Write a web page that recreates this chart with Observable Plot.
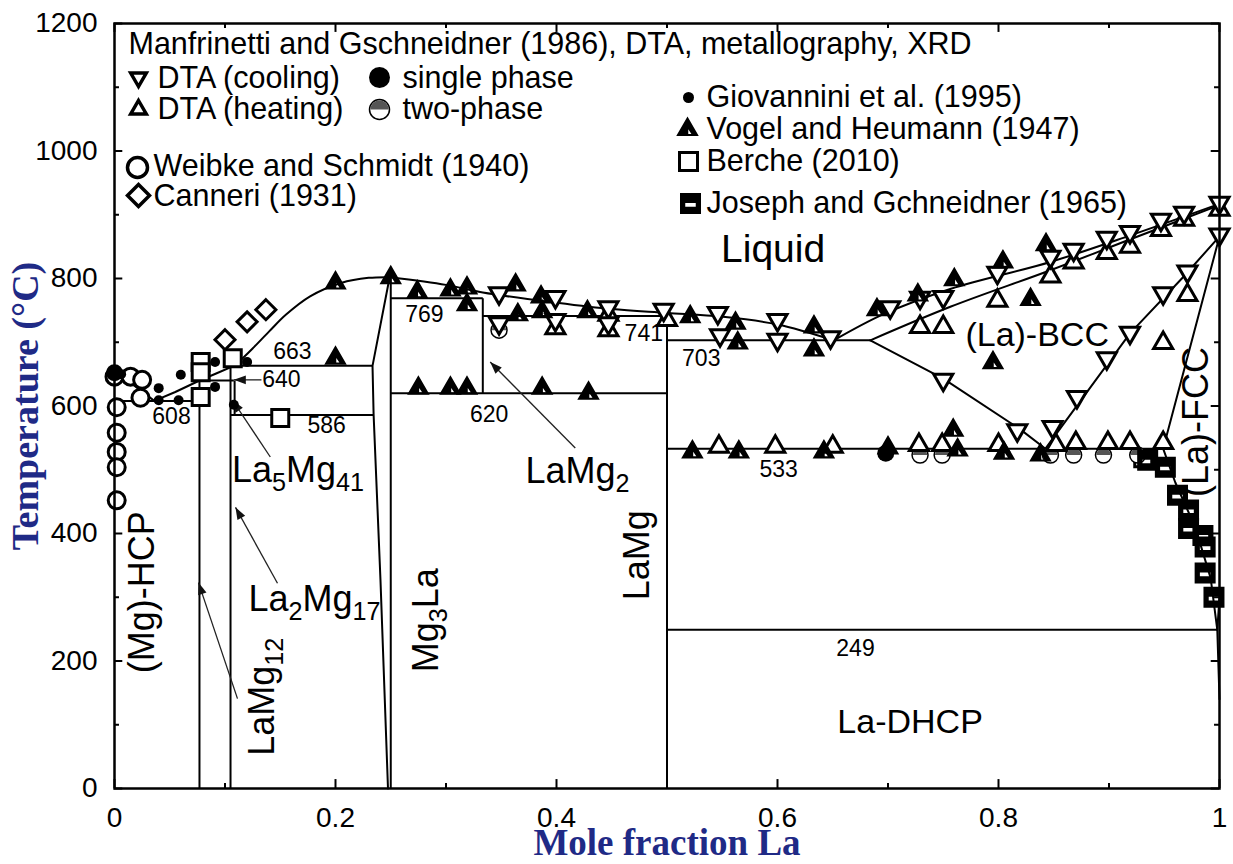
<!DOCTYPE html>
<html><head><meta charset="utf-8">
<script src="https://cdn.jsdelivr.net/npm/d3@7"></script>
<script src="https://cdn.jsdelivr.net/npm/@observablehq/plot@0.6"></script>
<style>body{margin:0;background:#fff}</style>
</head><body><div id="chart"></div>
<script>
// ---------- tick values ----------
const xTicks = [0, 0.2, 0.4, 0.6, 0.8, 1];
const xMinor = [0.1, 0.3, 0.5, 0.7, 0.9];
const yTicks = [0, 200, 400, 600, 800, 1000, 1200];
const yMinor = [100, 300, 500, 700, 900, 1100];

// ---------- phase boundaries [x, T] ----------
const liqMgSide   = [[0,650],[0.018,632],[0.036,608]];
const liqEutRight = [[0.036,608],[0.055,622],[0.077,640]];
const liqPerit    = [[0.077,640],[0.092,651],[0.108,663]];
const liqMg3La    = [[0.108,663],[0.116,675],[0.126,692],[0.14,717],[0.155,743],[0.177,772],[0.205,793],[0.23,801],[0.25,802]];
const liqLaMg     = [[0.25,802],[0.3,790],[0.3333,778],[0.4,762],[0.45,752],[0.5,746],[0.55,740],[0.6,728],[0.651,703]];
const liqBCC      = [[0.651,703],[0.696,744],[0.757,784],[0.847,826],[0.92,868],[1,917]];
const solBCC      = [[0.684,703],[0.757,756],[0.847,813],[0.92,862],[1,915]];
const bccEutectoid= [[0.684,703],[0.75,643],[0.82,563],[0.8425,533]];
const bccFccBcc   = [[0.8425,533],[0.919,714],[0.967,802],[1,866]];
const bccFccFcc   = [[0.949,533],[1,866]];
const fccDhcp     = [[0.949,533],[0.96,480],[0.978,410],[0.992,330],[0.998,249]];
const dhcpSolvus  = [[1,300],[0.998,249],[1,140]];
const mg3laLeft   = [[0.249,802],[0.2335,663],[0.2345,586],[0.2407,327],[0.2475,0]];
const curves = [liqMgSide, liqEutRight, liqPerit, liqMg3La, liqLaMg, liqBCC, solBCC, bccEutectoid, bccFccBcc, bccFccFcc, fccDhcp, dhcpSolvus, mg3laLeft];
const smooth = [liqMg3La, liqLaMg, liqBCC, solBCC];

// straight segments [x1, T1, x2, T2]
const invariantLines = [
  [0.004,608,0.0769,608],[0.0769,640,0.108,640],[0.108,663,0.2335,663],[0.105,586,0.2345,586],
  [0.25,769,0.3333,769],[0.25,620,0.5,620],[0.3333,741,0.5,741],[0.5,703,0.684,703],
  [0.5,533,0.949,533],[0.5,249,0.998,249]
];
const compoundLines = [
  [0.0769,0,0.0769,640],[0.105,0,0.105,663],[0.1087,586,0.1087,640],
  [0.25,0,0.25,802],[0.3333,620,0.3333,769],[0.5,0,0.5,741]
];
// annotation arrows [xStart, TStart, xTip, TTip]
const arrows = [
  [0.1113,141,0.076,323],
  [0.1475,322,0.1095,441],
  [0.141,520,0.1068,609],
  [0.417,534,0.340,669],
  [0.133,641,0.108,641]
];

// ---------- experimental points [x, T] ----------
const dtaCooling = [[0.348,777],[0.348,730],[0.399,771],[0.399,735],[0.447,755],[0.447,730],[0.497,751],
  [0.546,746],[0.548,711],[0.600,735],[0.600,704],[0.648,708],[0.702,755],[0.729,770],[0.750,771],[0.750,641],
  [0.799,809],[0.817,562],[0.847,834],[0.868,845],[0.898,864],[0.919,873],[0.947,892],[0.968,903],[1.0,919],
  [1.0,869],[0.971,811],[0.949,777],[0.919,715],[0.898,675],[0.871,614],[0.849,567]];
const dtaHeating = [[0.399,722],[0.447,743],[0.447,719],[0.5,735],[0.547,536],[0.598,536],[0.65,536],
  [0.728,539],[0.749,539],[0.8,539],[0.852,539],[0.87,542],[0.899,542],[0.919,542],[0.949,542],
  [0.729,724],[0.75,724],[0.799,765],[0.847,803],[0.868,825],[0.898,840],[0.919,850],[0.947,876],
  [0.968,892],[1.0,908],[0.971,774],[0.949,699]];
const singlePhase = [[0.0,652],[0.698,526]];
const twoPhase = [[0.348,719],[0.729,523],[0.749,523],[0.847,523],[0.868,523],[0.895,523],[0.926,523]];
const weibke = [[0.0,646],[0.0145,646],[0.025,641],[0.0235,613],[0.002,598],[0.002,558],[0.002,528],[0.002,504],[0.002,452]];
const canneri = [[0.1,704],[0.12,732],[0.137,751]];
const giovannini = [[0.0,655],[0.006,650],[0.04,628],[0.06,649],[0.058,609],[0.04,609],[0.091,669],[0.091,630],[0.12,669],[0.108,602]];
const vogel = [[0.2,793],[0.2,675],[0.25,801],[0.274,779],[0.304,782],[0.319,785],[0.319,759],[0.363,790],
  [0.365,743],[0.386,771],[0.387,748],[0.428,748],[0.275,628],[0.304,628],[0.319,628],[0.387,628],[0.429,620],
  [0.521,740],[0.562,730],[0.564,699],[0.633,724],[0.633,688],[0.69,751],[0.727,774],[0.76,798],[0.804,826],
  [0.843,853],[0.829,767],[0.795,668],[0.523,528],[0.565,528],[0.642,528],[0.70,534],[0.759,562],[0.763,531],
  [0.805,526],[0.838,523]];
const berche = [[0.078,669],[0.078,653],[0.078,614],[0.107,675],[0.15,581],[0.931,518]];
const joseph = [[0.935,515],[0.951,504],[0.962,460],[0.972,437],[0.972,408],[0.985,397],[0.987,379],[0.987,338],[0.995,300]];

// ---------- texts ----------
const bigLabels = [["Liquid",0.596,845]];
const phaseLabels = [["(La)-BCC",0.835,711],["La-DHCP",0.72,104]];
const rotatedLabels = [["(Mg)-HCP",0.0253,308],["LaMg{12}",0.134,144],["Mg{3}La",0.282,264],["LaMg",0.473,366],["(La)-FCC",0.979,575]];
const compoundLabels = [["La{5}Mg{41}",0.1063,499],["La{2}Mg{17}",0.1213,297],["LaMg{2}",0.372,497]];
const invariantLabels = [["663",0.161,685],["640",0.151,641],["608",0.0516,584],["586",0.192,569],["769",0.2805,743],
  ["620",0.339,586],["741",0.479,713],["703",0.531,675],["533",0.601,500],["249",0.6706,220]];
const legendHeader = "Manfrinetti and Gschneidner (1986), DTA, metallography, XRD";
const legendLeft = ["DTA (cooling)","DTA (heating)","single phase","two-phase","Weibke and Schmidt (1940)","Canneri (1931)"];
const legendRight = ["Giovannini et al. (1995)","Vogel and Heumann (1947)","Berche (2010)","Joseph and Gchneidner (1965)"];
const xTitle = "Mole fraction La";
const yTitle = "Temperature (°C)";

// ---------- symbols ----------
const sym = f => ({draw(c, size){ f(c, Math.sqrt(size/Math.PI)); }});
const triUp = sym((c,r)=>{const h=r*0.866; c.moveTo(0,-r); c.lineTo(h,r/2); c.lineTo(-h,r/2); c.closePath();});
const triDown = sym((c,r)=>{const h=r*0.866; c.moveTo(0,r); c.lineTo(-h,-r/2); c.lineTo(h,-r/2); c.closePath();});
const triNotched = sym((c,r)=>{const h=r*0.866; c.moveTo(0,-r); c.lineTo(h,r/2); c.lineTo(-h,r/2); c.closePath();
  c.moveTo(0.06*r,-0.02*r); c.lineTo(0.06*r,0.34*r); c.lineTo(0.3*r,0.34*r); c.closePath();});
const square = sym((c,r)=>{c.moveTo(-r,-r); c.lineTo(r,-r); c.lineTo(r,r); c.lineTo(-r,r); c.closePath();});
const squareBar = sym((c,r)=>{c.moveTo(-r,-r); c.lineTo(r,-r); c.lineTo(r,r); c.lineTo(-r,r); c.closePath();
  c.moveTo(-0.5*r,-0.05*r); c.lineTo(-0.5*r,0.3*r); c.lineTo(0.5*r,0.3*r); c.lineTo(0.5*r,-0.05*r); c.closePath();});
const diamond = sym((c,r)=>{c.moveTo(0,-r); c.lineTo(r,0); c.lineTo(0,r); c.lineTo(-r,0); c.closePath();});
const topHalf = sym((c,r)=>{c.moveTo(-r,0); c.arc(0,0,r,Math.PI,2*Math.PI); c.closePath();});
const arrowHead = sym((c,r)=>{c.moveTo(0,0); c.lineTo(0.55*r,1.5*r); c.lineTo(-0.55*r,1.5*r); c.closePath();});

const NAVY = "#1f2a86";
const opts = {
  width: 1233, height: 864,
  marginLeft: 114, marginRight: 14, marginTop: 23, marginBottom: 76,
  x: {domain: [0, 1]}, y: {domain: [0, 1200]},
  style: {fontFamily: "'Liberation Sans', Arial, sans-serif", background: "white", color: "black", overflow: "visible"}
};
const base = Plot.plot({...opts, marks: [Plot.frame()]});
const sx = base.scale("x"), sy = base.scale("y");
const fx = d3.scaleLinear(sx.domain, sx.range), fy = d3.scaleLinear(sy.domain, sy.range);
const angle = a => Math.atan2(fx(a[2]) - fx(a[0]), -(fy(a[3]) - fy(a[1]))) * 180 / Math.PI;

const P = {x: d => d[0], y: d => d[1]};
const pts = (data, o) => Plot.dot(data, {...P, ...o});
const lab = (data, o) => Plot.text(data, {x: d => d[1], y: d => d[2], text: d => d[0], ...o});
const leg = (o) => Plot.dot([0], {frameAnchor: "top-left", ...o});
const LF = 30.5;
const legText = (s, dx, dy) => Plot.text([s], {frameAnchor: "top-left", text: d => d, dx, dy, textAnchor: "start", lineAnchor: "middle", fontSize: LF});

const marks = [
  // inward ticks
  Plot.ruleX(xTicks, {x: d => d, y1: 0, y2: 14, strokeWidth: 2}),
  Plot.ruleX(xMinor, {x: d => d, y1: 0, y2: 8, strokeWidth: 2}),
  Plot.ruleX(xTicks, {x: d => d, y1: 1200, y2: 1186, strokeWidth: 2}),
  Plot.ruleX(xMinor, {x: d => d, y1: 1200, y2: 1192, strokeWidth: 2}),
  Plot.ruleY(yTicks, {y: d => d, x1: 0, x2: 0.0075, strokeWidth: 2}),
  Plot.ruleY(yMinor, {y: d => d, x1: 0, x2: 0.0045, strokeWidth: 2}),
  Plot.ruleY(yTicks, {y: d => d, x1: 1, x2: 0.9925, strokeWidth: 2}),
  Plot.ruleY(yMinor, {y: d => d, x1: 1, x2: 0.9955, strokeWidth: 2}),
  Plot.axisX(xTicks, {anchor: "bottom", tickSize: 0, tickPadding: 19, tickFormat: d => String(d), fontSize: 28, label: null}),
  Plot.axisY(yTicks, {anchor: "left", tickSize: 0, tickPadding: 17, tickFormat: d => String(d), fontSize: 28, label: null}),
  // phase boundaries
  ...curves.map(c => Plot.line(c, {...P, stroke: "black", strokeWidth: 2, curve: smooth.includes(c) ? "catmull-rom" : "linear"})),
  Plot.link(invariantLines, {x1: d => d[0], y1: d => d[1], x2: d => d[2], y2: d => d[3], stroke: "black", strokeWidth: 2}),
  Plot.link(compoundLines, {x1: d => d[0], y1: d => d[1], x2: d => d[2], y2: d => d[3], stroke: "black", strokeWidth: 2}),
  // arrows
  Plot.link(arrows, {x1: d => d[0], y1: d => d[1], x2: d => d[2], y2: d => d[3], stroke: "#222", strokeWidth: 1.3}),
  Plot.dot(arrows, {x: d => d[2], y: d => d[3], symbol: arrowHead, r: 8, rotate: angle, fill: "#111", stroke: "none"}),
  // experimental points
  pts(weibke, {symbol: "circle", r: 8.5, fill: "white", stroke: "black", strokeWidth: 3}),
  pts(canneri, {symbol: diamond, r: 10, fill: "white", stroke: "black", strokeWidth: 3}),
  pts(berche, {symbol: square, r: 8.5, fill: "white", stroke: "black", strokeWidth: 3}),
  pts(twoPhase, {symbol: "circle", r: 8, fill: "white", stroke: "black", strokeWidth: 1.5}),
  pts(twoPhase, {symbol: topHalf, r: 7.2, fill: "#555", stroke: "none"}),
  pts(dtaHeating, {symbol: triUp, r: 11, fill: "white", stroke: "black", strokeWidth: 3}),
  pts(dtaCooling, {symbol: triDown, r: 11, fill: "white", stroke: "black", strokeWidth: 3}),
  pts(vogel, {symbol: triNotched, r: 13, fill: "black", stroke: "none"}),
  pts(joseph, {symbol: squareBar, r: 10.5, fill: "black", stroke: "none"}),
  pts(singlePhase, {symbol: "circle", r: 8.5, fill: "black", stroke: "none"}),
  pts(giovannini, {symbol: "circle", r: 5, fill: "black", stroke: "none"}),
  // labels
  lab(bigLabels, {fontSize: 39}),
  lab(phaseLabels, {fontSize: 34}),
  lab(rotatedLabels, {fontSize: 36, rotate: -90}),
  lab(compoundLabels, {fontSize: 36, textAnchor: "start"}),
  lab(invariantLabels, {fontSize: 23}),
  // legend
  legText(legendHeader, 14, 21),
  leg({dx: 24, dy: 54, symbol: triDown, r: 9, fill: "white", stroke: "black", strokeWidth: 3.5}),
  leg({dx: 24, dy: 86, symbol: triUp, r: 9, fill: "white", stroke: "black", strokeWidth: 3.5}),
  leg({dx: 265, dy: 54, symbol: "circle", r: 10.5, fill: "black"}),
  leg({dx: 265, dy: 86, symbol: "circle", r: 10, fill: "white", stroke: "black", strokeWidth: 1.5}),
  leg({dx: 265, dy: 86, symbol: topHalf, r: 9.2, fill: "#555", stroke: "none"}),
  leg({dx: 23, dy: 144, symbol: "circle", r: 10, fill: "white", stroke: "black", strokeWidth: 3.5}),
  leg({dx: 24, dy: 172, symbol: diamond, r: 11, fill: "white", stroke: "black", strokeWidth: 3.5}),
  legText(legendLeft[0], 43, 55), legText(legendLeft[1], 43, 86),
  legText(legendLeft[2], 288, 55), legText(legendLeft[3], 288, 86),
  legText(legendLeft[4], 39, 143), legText(legendLeft[5], 39, 173),
  leg({dx: 574, dy: 74, symbol: "circle", r: 5.5, fill: "black"}),
  leg({dx: 573, dy: 106, symbol: triNotched, r: 13, fill: "black"}),
  leg({dx: 574, dy: 138, symbol: square, r: 9, fill: "white", stroke: "black", strokeWidth: 3}),
  leg({dx: 576, dy: 180, symbol: squareBar, r: 10.5, fill: "black"}),
  legText(legendRight[0], 592, 74), legText(legendRight[1], 592, 106),
  legText(legendRight[2], 592, 138), legText(legendRight[3], 592, 180),
  // axis titles
  Plot.text([yTitle], {frameAnchor: "left", text: d => d, dx: -89, rotate: -90, textAnchor: "middle", lineAnchor: "middle", fontSize: 38, fontWeight: "bold", fontFamily: "'Liberation Serif', 'Times New Roman', serif", fill: NAVY}),
  Plot.text([xTitle], {frameAnchor: "bottom", text: d => d, dy: 55, textAnchor: "middle", lineAnchor: "middle", fontSize: 37, fontWeight: "bold", fontFamily: "'Liberation Serif', 'Times New Roman', serif", fill: NAVY}),
  Plot.frame({stroke: "black", strokeWidth: 2.5})
];

const plot = Plot.plot({...opts, marks});
// subscripts: text written as "La{5}Mg{41}"
plot.querySelectorAll("text").forEach(t => {
  const s = t.textContent;
  if (!s.includes("{")) return;
  while (t.firstChild) t.removeChild(t.firstChild);
  let sub = false;
  s.split(/(\{[^}]*\})/).filter(p => p).forEach(p => {
    const ts = document.createElementNS("http://www.w3.org/2000/svg", "tspan");
    if (p.startsWith("{")) {
      ts.textContent = p.slice(1, -1);
      ts.style.fontSize = "70%";
      ts.setAttribute("dy", "0.36em");
      sub = true;
    } else {
      ts.textContent = p;
      if (sub) ts.setAttribute("dy", "-0.25em");
      sub = false;
    }
    t.appendChild(ts);
  });
});
document.getElementById("chart").appendChild(plot);
</script>
</body></html>
